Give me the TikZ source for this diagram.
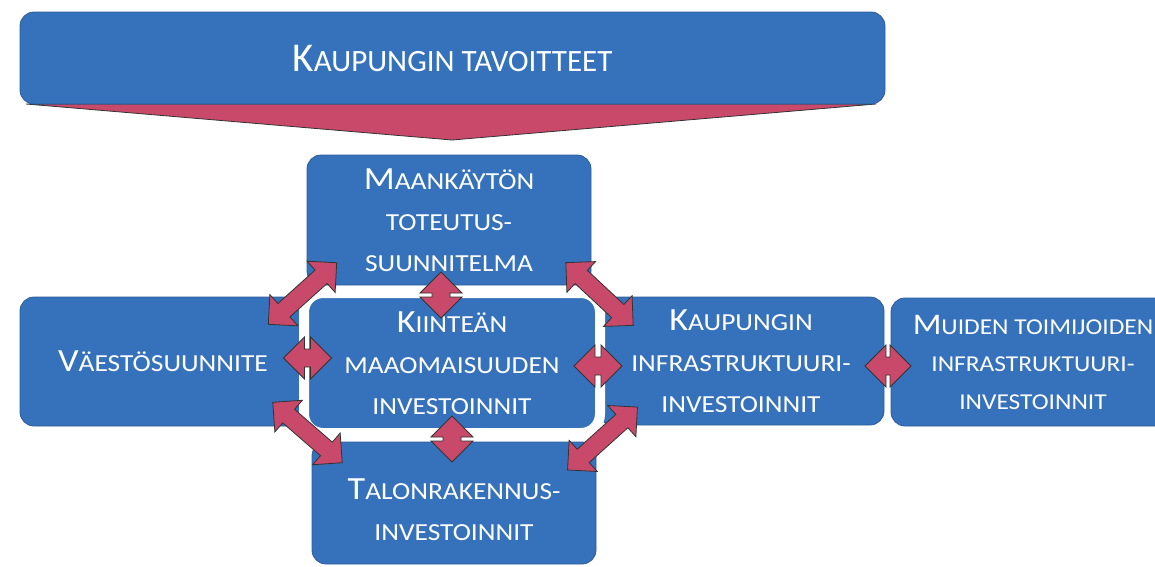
\documentclass[tikz,border=0pt]{standalone}
\usepackage{fontspec}
\setmainfont{Carlito}
\newfontfamily\widefont[FakeStretch=1.12]{Carlito}
\usepackage{tikz}
\definecolor{boxblue}{RGB}{53,114,187}
\definecolor{boxedge}{RGB}{44,92,152}
\definecolor{arrowpink}{RGB}{201,73,106}
\newcommand{\iso}[1]{\scalebox{1.32}{#1}}
% double block arrow: centre, angle, half length
\newcommand{\dblarr}[3]{%
  \draw [arrow, shift={#1}, rotate=#2] (-#3,0)--(-#3+21,21)--(-#3+21,9)--(#3-21,9)--(#3-21,21)
    --(#3,0)--(#3-21,-21)--(#3-21,-9)--(-#3+21,-9)--(-#3+21,-21)--cycle;}
\tikzset{
  box/.style={rectangle, rounded corners=14pt, fill=boxblue, draw=boxedge, line width=0.8pt,
    text=white, align=center, inner sep=0pt, font=\widefont\fontsize{24.5}{41}\selectfont},
  arrow/.style={fill=arrowpink, draw=black!80, line width=0.8pt, line join=miter}
}
\begin{document}
\begin{tikzpicture}[line cap=round,line join=round,x=1pt,y=-1pt]
\useasboundingbox (0,0) rectangle (1155,566);
% goals and the big arrow under them
\draw [arrow] (26,104)--(452,140)--(876,104)--cycle;
\node [box, minimum width=865pt, minimum height=92pt, font=\fontsize{31}{36}\selectfont] (goals) at (452.5,58) {\iso{K}AUPUNGIN TAVOITTEET};
% boxes
\node [box, minimum width=284pt, minimum height=130pt] (maank) at (449,220) {\iso{M}AANKÄYTÖN\\TOTEUTUS-\\SUUNNITELMA};
\node [box, minimum width=286pt, minimum height=129pt] (vaesto) at (163,361.5) {\iso{V}ÄESTÖSUUNNITE};
\node [box, minimum width=286pt, minimum height=128pt] (kaup) at (741,361) {\iso{K}AUPUNGIN\\INFRASTRUKTUURI-\\INVESTOINNIT};
\node [box, minimum width=284pt, minimum height=128pt, font=\widefont\fontsize{22.7}{37.5}\selectfont] (muiden) at (1033,362) {\iso{M}UIDEN TOIMIJOIDEN\\INFRASTRUKTUURI-\\INVESTOINNIT};
\node [box, minimum width=284pt, minimum height=122pt] (talo) at (454,503) {\rule{0pt}{34pt}\iso{T}ALONRAKENNUS-\\INVESTOINNIT};
\node [box, draw=white, line width=10pt, rounded corners=19pt, minimum width=296pt, minimum height=140pt] (kiint) at (452,363) {\iso{K}IINTEÄN\\MAAOMAISUUDEN\\INVESTOINNIT};
% arrows between the boxes
\dblarr{(302.5,293.5)}{42}{46}
\dblarr{(599.5,294)}{-43}{46}
\dblarr{(307.5,432.5)}{-41}{46}
\dblarr{(602.5,438.5)}{42}{47}
\dblarr{(441,295)}{90}{23}
\dblarr{(452,439)}{90}{23}
\dblarr{(307.5,358)}{0}{24}
\dblarr{(598,366)}{0}{24}
\dblarr{(888,366)}{0}{23}
\end{tikzpicture}
\end{document}
